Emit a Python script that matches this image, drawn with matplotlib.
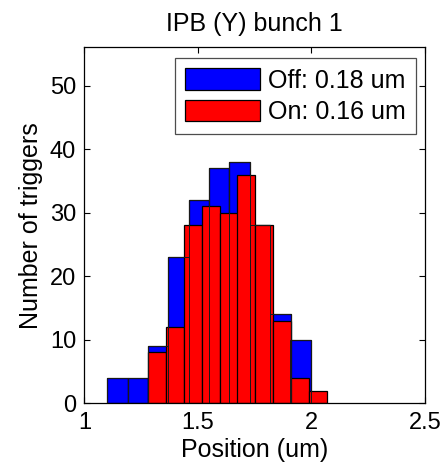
import matplotlib
matplotlib.use("Agg")
import matplotlib.pyplot as plt
import numpy as np

plt.rcParams['font.family'] = ['Liberation Sans', 'DejaVu Sans']

title = "IPB (Y) bunch 1"
xlabel = "Position (um)"
ylabel = "Number of triggers"
labels = ["Off: 0.18 um", "On: 0.16 um"]

# bin centers (um) and counts
off_centers = [1.146, 1.236, 1.325, 1.415, 1.504, 1.594, 1.683, 1.773, 1.863, 1.952]
off_counts = [4, 4, 9, 23, 32, 37, 38, 28, 14, 10]
on_centers = [1.321, 1.400, 1.478, 1.557, 1.636, 1.714, 1.793, 1.871, 1.950, 2.028]
on_counts = [8, 12, 28, 31, 30, 36, 28, 13, 4, 2]

xticks = [1, 1.5, 2, 2.5]
xticklabels = ["1", "1.5", "2", "2.5"]
yticks = [0, 10, 20, 30, 40, 50]

fs_tick = 17
fs = 18
fig = plt.figure(figsize=(4.44, 4.70), dpi=100)
ax = fig.add_axes([0.190, 0.142, 0.767, 0.757])

w_off = off_centers[1] - off_centers[0]
w_on = on_centers[1] - on_centers[0]

b1 = ax.bar(off_centers, off_counts, width=w_off, color=(0, 0, 1),
            edgecolor='black', linewidth=0.9, zorder=1, label=labels[0])
b2 = ax.bar(on_centers, on_counts, width=w_on, color=(1, 0, 0),
            edgecolor='black', linewidth=0.9, zorder=2, label=labels[1])
# outlines of the first series show over the second
ax.bar(off_centers, off_counts, width=w_off, fill=False,
       edgecolor=(0.1, 0.1, 0.1), linewidth=0.7, zorder=3)

ax.set_xlim(1, 2.5)
ax.set_ylim(0, 56)
ax.set_xticks(xticks)
ax.set_xticklabels(xticklabels)
ax.set_yticks(yticks)
ax.tick_params(direction='in', length=4, width=0.8, top=True, right=True,
               labelsize=fs_tick, pad=6)
for s in ax.spines.values():
    s.set_linewidth(0.9)

ax.set_title(title, fontsize=fs, pad=12)
ax.set_xlabel(xlabel, fontsize=fs, labelpad=3)
ax.set_ylabel(ylabel, fontsize=fs, labelpad=5)

leg = ax.legend(handles=[b1, b2], loc='upper right',
                bbox_to_anchor=(0.973, 0.969), borderaxespad=0,
                fontsize=fs, handlelength=3.0, handleheight=0.92,
                handletextpad=0.3, labelspacing=0.3, borderpad=0.4,
                fancybox=False, framealpha=1, edgecolor=(0.3, 0.3, 0.3))
leg.get_frame().set_linewidth(0.9)

fig.savefig("out.png", dpi=100)
